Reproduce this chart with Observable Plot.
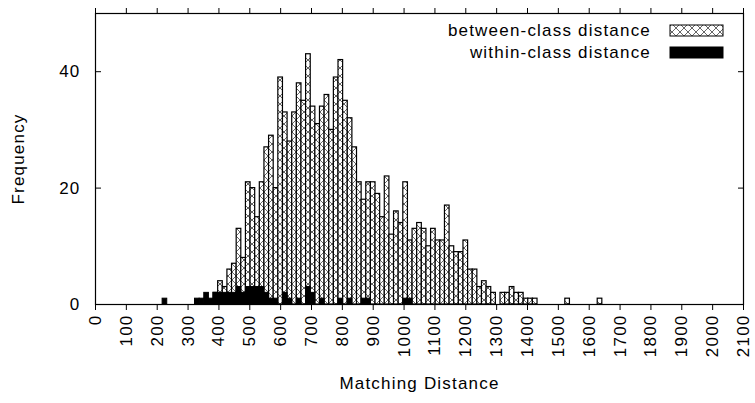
<!DOCTYPE html>
<html><head><meta charset="utf-8">
<script src="https://cdn.jsdelivr.net/npm/d3@7"></script>
<script src="https://cdn.jsdelivr.net/npm/@observablehq/plot@0.6"></script>
<style>
body{margin:0;background:#fff}
#chart svg{font-family:"Liberation Sans",Arial,sans-serif;}
#chart svg text{letter-spacing:1.2px}
</style>
</head><body><div id="chart"></div><script>
const binWidth = 15;
const betweenCenters = [375,390,405,420,435,450,465,480,495,510,525,540,555,570,585,600,615,630,645,660,675,690,705,720,735,750,765,780,795,810,825,840,855,870,885,900,915,930,945,960,975,990,1005,1020,1035,1050,1065,1080,1095,1110,1125,1140,1155,1170,1185,1200,1215,1230,1245,1260,1275,1290,1305,1320,1335,1350,1365,1380,1395,1410,1425,1530,1635];
const betweenCounts = [0,2,4,3,6,7,13,8,21,20,15,21,27,29,20,39,33,28,33,38,35,43,34,31,34,36,30,39,42,35,32,27,21,18,21,21,19,15,22,12,16,14,21,11,13,14,13,10,13,11,11,17,10,9,9,11,6,6,3,4,3,2,0,2,2,3,2,2,1,1,1,1,1];
const withinCenters = [225,330,345,360,375,390,405,420,435,450,465,480,495,510,525,540,555,570,585,615,630,660,690,705,735,795,825,870,885,1005,1020];
const withinCounts = [1,1,1,2,1,2,2,2,2,2,3,2,3,3,3,3,2,1,1,2,1,1,3,2,1,1,1,1,1,1,1];
const xTickValues = [0,100,200,300,400,500,600,700,800,900,1000,1100,1200,1300,1400,1500,1600,1700,1800,1900,2000,2100];
const yTickValues = [0,20,40];
const seriesNames = ["between-class distance","within-class distance"];
const xLabel = "Matching Distance";
const yLabel = "Frequency";

const between = betweenCenters.map((c,i)=>({c, n: betweenCounts[i]}));
const within = withinCenters.map((c,i)=>({c, n: withinCounts[i]}));
const blank = () => "";
const plain = d => String(d);

const chart = Plot.plot({
  width: 755, height: 403,
  marginLeft: 95, marginRight: 12, marginTop: 13, marginBottom: 99,
  style: {fontFamily: '"Liberation Sans", Arial, sans-serif', fontSize: "17px", background: "white", color: "black"},
  x: {domain: [0, 2100]},
  y: {domain: [0, 50]},
  marks: [
    Plot.rectY(between, {x1: d => d.c - binWidth/2, x2: d => d.c + binWidth/2, y: "n", fill: "url(#xhatch)", stroke: "black", strokeWidth: 1.2}),
    Plot.rectY(within, {x1: d => d.c - binWidth/2, x2: d => d.c + binWidth/2, y: "n", fill: "black", stroke: "black", strokeWidth: 1}),
    Plot.frame({stroke: "black", strokeWidth: 1.2}),
    Plot.axisX({anchor: "bottom", ticks: xTickValues, tickSize: 6, tickRotate: -90, tickPadding: 4, tickFormat: plain, label: null}),
    Plot.axisX({anchor: "top", ticks: xTickValues, tickSize: 6, tickFormat: blank, label: null}),
    Plot.axisY({anchor: "left", ticks: yTickValues, tickSize: 0, tickPadding: 15, tickFormat: plain, label: null}),
    Plot.axisY({anchor: "left", ticks: yTickValues, tickSize: 6, dx: 6, tickFormat: blank, label: null}),
    Plot.axisY({anchor: "right", ticks: yTickValues, tickSize: 6, dx: -6, tickFormat: blank, label: null}),
    Plot.text([yLabel], {text: d => d, frameAnchor: "left", textAnchor: "middle", lineAnchor: "middle", rotate: -90, dx: -77}),
    Plot.text([xLabel], {text: d => d, frameAnchor: "bottom", lineAnchor: "middle", dy: 79})
  ]
});

const svg = d3.select(chart);
const defs = svg.insert("defs", ":first-child");
const pat = defs.append("pattern").attr("id", "xhatch").attr("patternUnits", "userSpaceOnUse")
  .attr("width", 8).attr("height", 8);
pat.append("rect").attr("width", 8).attr("height", 8).attr("fill", "white");
pat.append("path").attr("d", "M0,0L8,8M0,8L8,0").attr("stroke", "#555").attr("stroke-width", 0.9);

// legend
const leg = svg.append("g").attr("font-size", 17);
seriesNames.forEach((name, i) => {
  leg.append("text").attr("x", 651).attr("y", 31 + i*22).attr("dy", "0.32em")
    .attr("text-anchor", "end").attr("fill", "black").text(name);
  leg.append("rect").attr("x", 670).attr("y", 25 + i*22).attr("width", 53).attr("height", 11)
    .attr("fill", i === 0 ? "url(#xhatch)" : "black").attr("stroke", "black").attr("stroke-width", 1);
});
document.getElementById("chart").appendChild(chart);
</script></body></html>
